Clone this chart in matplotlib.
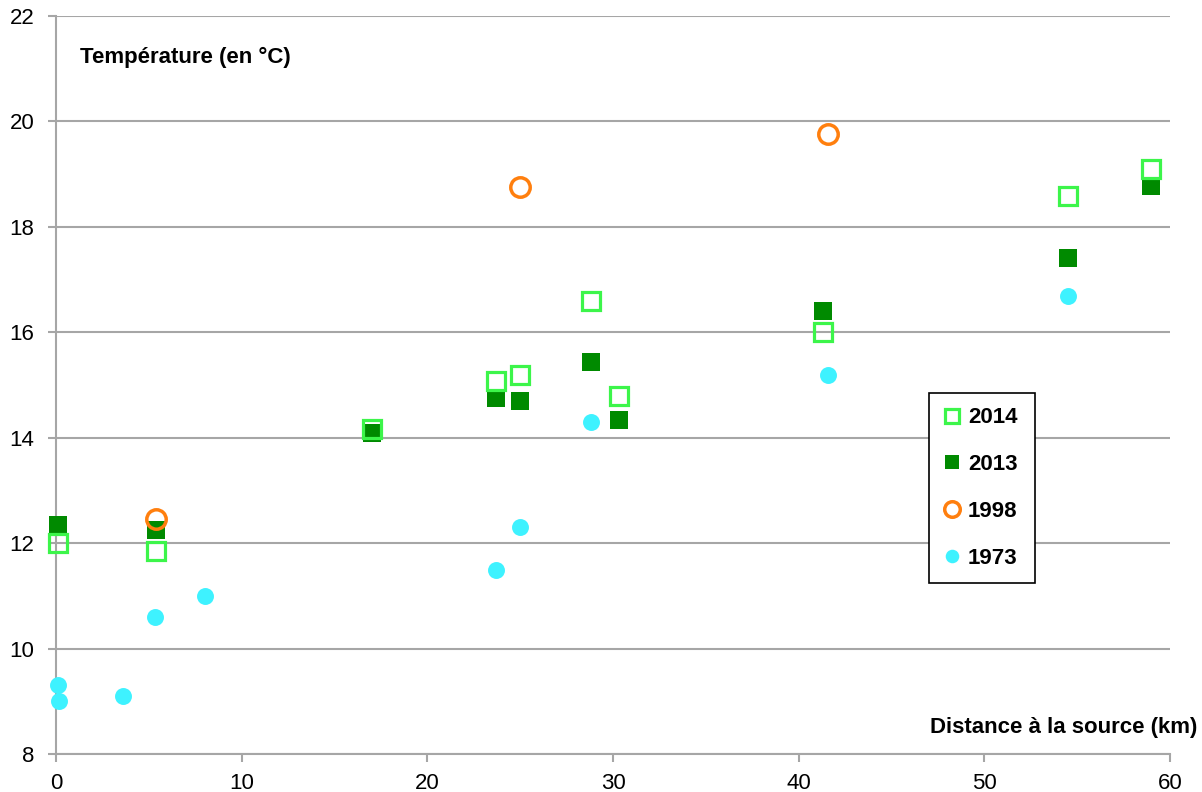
import matplotlib
matplotlib.use("Agg")
import matplotlib.pyplot as plt

plt.rcParams['font.family'] = ['Liberation Sans', 'DejaVu Sans']

# Data
x_2014 = [0.1, 5.4, 17.0, 23.7, 25.0, 28.8, 30.3, 41.3, 54.5, 59.0]
y_2014 = [12.0, 11.85, 14.17, 15.07, 15.19, 16.6, 14.79, 16.0, 18.58, 19.1]

x_2013 = [0.1, 5.4, 17.0, 23.7, 25.0, 28.8, 30.3, 41.3, 54.5, 59.0]
y_2013 = [12.35, 12.24, 14.08, 14.75, 14.7, 15.44, 14.34, 16.41, 17.41, 18.77]

x_1998 = [5.4, 25.0, 41.6]
y_1998 = [12.46, 18.76, 19.76]

x_1973 = [0.1, 0.15, 3.6, 5.35, 8.05, 23.7, 25.0, 28.8, 41.6, 54.5]
y_1973 = [9.3, 9.0, 9.1, 10.6, 11.0, 11.5, 12.3, 14.3, 15.19, 16.69]

xticks = [0, 10, 20, 30, 40, 50, 60]
yticks = [8, 10, 12, 14, 16, 18, 20, 22]

fig = plt.figure(figsize=(12.02, 7.92), dpi=100)
ax = fig.add_axes([56/1202, 38/792, (1170-56)/1202, (754-16)/792])

ax.set_xlim(0, 60)
ax.set_ylim(8, 22)
ax.set_xticks(xticks)
ax.set_yticks(yticks)
ax.grid(axis='y', color='#a6a6a6', linewidth=1.5)
ax.set_axisbelow(True)
for s in ['top', 'right']:
    ax.spines[s].set_visible(False)
for s in ['left', 'bottom']:
    ax.spines[s].set_color('#a6a6a6')
    ax.spines[s].set_linewidth(1.5)
ax.tick_params(axis='both', colors='#a6a6a6', labelcolor='black', labelsize=16,
               length=5.5, width=1.5)
ax.tick_params(axis='y', pad=10)
ax.tick_params(axis='x', pad=8)

ax.plot(x_1973, y_1973, linestyle='none', marker='o', markersize=12.2,
        markerfacecolor='#3ef2ff', markeredgecolor='#3ef2ff', markeredgewidth=0,
        label='1973', clip_on=False, zorder=3)
ax.plot(x_2013, y_2013, linestyle='none', marker='s', markersize=13,
        markerfacecolor='#008a00', markeredgecolor='#008a00', markeredgewidth=0,
        label='2013', clip_on=False, zorder=4)
ax.plot(x_2014, y_2014, linestyle='none', marker='s', markersize=12.6,
        markerfacecolor='none', markeredgecolor='#3cf54a', markeredgewidth=2.3,
        label='2014', clip_on=False, zorder=5)
ax.plot(x_1998, y_1998, linestyle='none', marker='o', markersize=14,
        markerfacecolor='none', markeredgecolor='#ff7f0e', markeredgewidth=2.5,
        label='1998', clip_on=False, zorder=6)

handles, labels = ax.get_legend_handles_labels()
order = ['2014', '2013', '1998', '1973']
hmap = dict(zip(labels, handles))
lx0 = (929 - 56) / 1114
lw = (1035 - 929) / 1114
ly1 = (754 - 393) / 738
leg = ax.legend([hmap[k] for k in order], order, loc='upper left',
                bbox_to_anchor=(lx0, ly1 - 0.3, lw, 0.3), mode='expand',
                frameon=True, fancybox=False, framealpha=1, edgecolor='black',
                markerscale=0.8, handlelength=0.8, handletextpad=0.3,
                labelspacing=1.16, borderpad=0.65, borderaxespad=0,
                prop={'weight': 'bold', 'size': 16})
leg.get_frame().set_linewidth(1.2)

fig.text(80/1202, 1 - 57/792, 'Température (en °C)', fontsize=16, fontweight='bold',
         ha='left', va='center')
fig.text(1197/1202, 1 - 727/792, 'Distance à la source (km)', fontsize=16,
         fontweight='bold', ha='right', va='center')

fig.savefig('out.png', dpi=100)
